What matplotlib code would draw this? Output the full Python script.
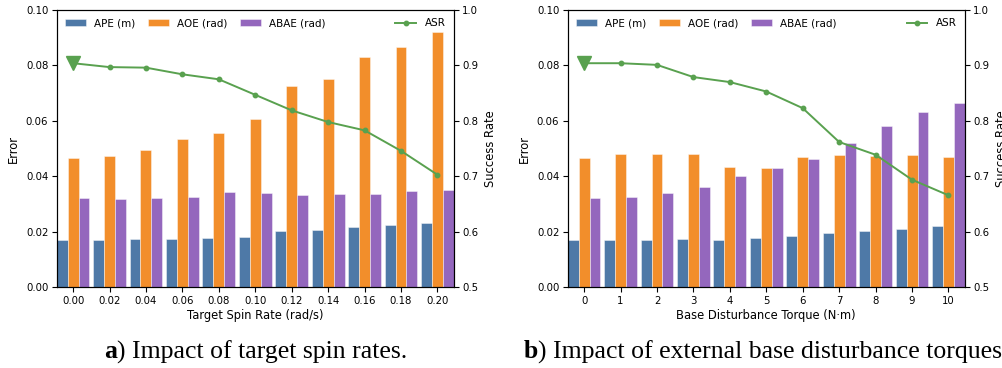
import numpy as np
import matplotlib
matplotlib.use("Agg")
from matplotlib import pyplot as plt

# panel a: target spin rate
spin_labels = ['0.00', '0.02', '0.04', '0.06', '0.08', '0.10', '0.12', '0.14', '0.16', '0.18', '0.20']
spin_ape = [0.0171, 0.0170, 0.0173, 0.0174, 0.0179, 0.0182, 0.0203, 0.0207, 0.0216, 0.0225, 0.0233]
spin_aoe = [0.0466, 0.0472, 0.0495, 0.0536, 0.0558, 0.0607, 0.0726, 0.0752, 0.0829, 0.0865, 0.0919]
spin_abae = [0.0322, 0.0320, 0.0321, 0.0325, 0.0344, 0.0339, 0.0333, 0.0337, 0.0335, 0.0346, 0.0351]
spin_asr = [0.904, 0.897, 0.896, 0.884, 0.875, 0.847, 0.819, 0.798, 0.783, 0.746, 0.703]

# panel b: base disturbance torque
torque_labels = ['0', '1', '2', '3', '4', '5', '6', '7', '8', '9', '10']
torque_ape = [0.0171, 0.0170, 0.0171, 0.0173, 0.0171, 0.0177, 0.0186, 0.0195, 0.0202, 0.0212, 0.0220]
torque_aoe = [0.0466, 0.0480, 0.0480, 0.0482, 0.0434, 0.0429, 0.0471, 0.0478, 0.0474, 0.0476, 0.0471]
torque_abae = [0.0322, 0.0325, 0.0341, 0.0363, 0.0401, 0.0429, 0.0462, 0.0520, 0.0582, 0.0632, 0.0663]
torque_asr = [0.904, 0.904, 0.901, 0.879, 0.870, 0.853, 0.823, 0.762, 0.739, 0.694, 0.666]

C_APE = '#4e79a7'
C_AOE = '#f28e2b'
C_ABAE = '#9467bd'
C_ASR = '#59a14f'

TICK_FS = 7.3
LEG_FS = 7.5
LAB_FS = 8.3
CAP_FS = 18.5


def panel(ax, labels, ape, aoe, abae, asr, xlabel):
    x = np.arange(len(labels))
    w = 0.3
    ek = dict(edgecolor=(1, 1, 1, 0.5), linewidth=0.6)
    ax.bar(x - w, ape, w, color=C_APE, label='APE (m)', **ek)
    ax.bar(x, aoe, w, color=C_AOE, label='AOE (rad)', **ek)
    ax.bar(x + w, abae, w, color=C_ABAE, label='ABAE (rad)', **ek)
    ax.set_xlim(-0.45, len(labels) - 1 + 0.45)
    ax.set_ylim(0, 0.10)
    yt = np.arange(0, 0.101, 0.02)
    ax.set_yticks(yt)
    ax.set_yticklabels(['%.2f' % v for v in yt])
    ax.set_xticks(x)
    ax.set_xticklabels(labels)
    ax.set_ylabel('Error', fontsize=LAB_FS)
    ax.set_xlabel(xlabel, fontsize=LAB_FS, labelpad=2)
    ax.tick_params(labelsize=TICK_FS, pad=2.5)
    ax.legend(loc='upper left', ncol=3, frameon=False, fontsize=LEG_FS,
              handlelength=2.0, columnspacing=1.2, borderaxespad=0.4)

    ax2 = ax.twinx()
    ax2.plot(x, asr, color=C_ASR, marker='o', markersize=3.2, linewidth=1.4, label='ASR')
    # big marker on the first (baseline) point
    ax2.plot(x[0], asr[0], color=C_ASR, marker='v', markersize=10, linestyle='none')
    ax2.set_ylim(0.5, 1.0)
    ax2.set_ylabel('Success Rate', fontsize=LAB_FS)
    ax2.tick_params(labelsize=TICK_FS, pad=2.5)
    ax2.legend(loc='upper right', frameon=False, fontsize=LEG_FS, borderaxespad=0.4)
    return ax2


fig = plt.figure(figsize=(10.03, 3.68), dpi=100)
ax_a = fig.add_axes([0.0565, 0.219, 0.396, 0.754])
ax_b = fig.add_axes([0.566, 0.219, 0.396, 0.754])

panel(ax_a, spin_labels, spin_ape, spin_aoe, spin_abae, spin_asr,
      'Target Spin Rate (rad/s)')
panel(ax_b, torque_labels, torque_ape, torque_aoe, torque_abae, torque_asr,
      'Base Disturbance Torque (N\u00b7m)')

# captions below each panel, bold letter + normal text, centred on the axes
fig.canvas.draw()
r = fig.canvas.get_renderer()
for ax, bold, rest in [(ax_a, 'a', ') Impact of target spin rates.'),
                       (ax_b, 'b', ') Impact of external base disturbance torques.')]:
    t1 = fig.text(0, 0, bold, fontsize=CAP_FS, fontweight='bold',
                  family='Liberation Serif', transform=None)
    t2 = fig.text(0, 0, rest, fontsize=CAP_FS, family='Liberation Serif',
                  transform=None)
    w1 = t1.get_window_extent(r).width
    w2 = t2.get_window_extent(r).width
    bb = ax.get_window_extent(r)
    x0 = bb.x0 + bb.width / 2 - (w1 + w2) / 2
    y0 = 9.5
    t1.set_position((x0, y0))
    t2.set_position((x0 + w1, y0))

fig.savefig('out.png', dpi=100)
